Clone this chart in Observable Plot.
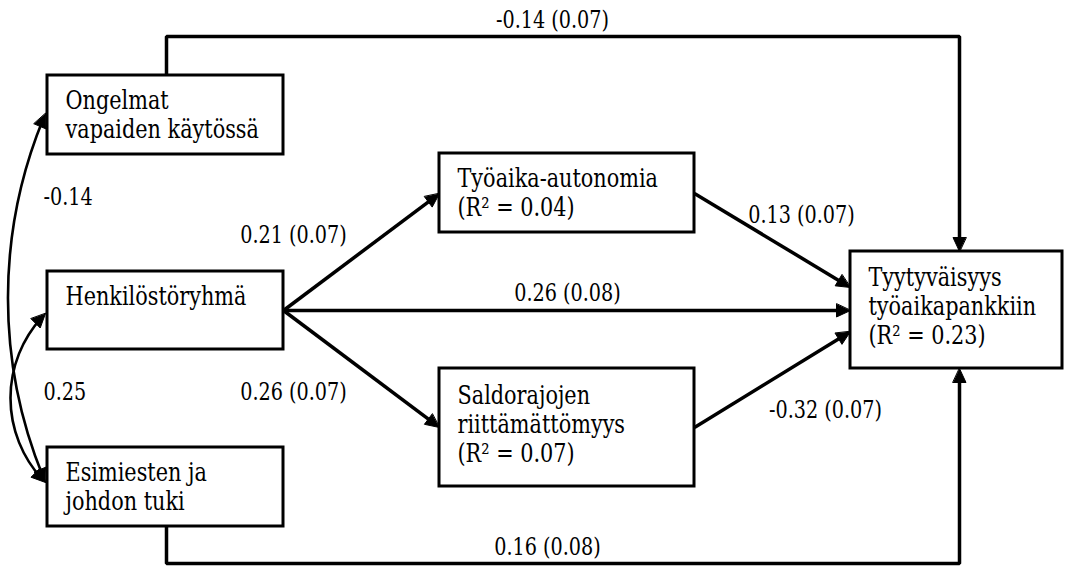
<!DOCTYPE html>
<html><head><meta charset="utf-8">
<script src="https://cdn.jsdelivr.net/npm/d3@7"></script>
<script src="https://cdn.jsdelivr.net/npm/@observablehq/plot@0.6"></script>
<style>
body{margin:0;background:#fff}
</style>
</head><body><div id="chart"></div>
<script>
// ---- variables (nodes) ----
const nodeIds = ["ongelmat", "henkilo", "esimies", "autonomia", "saldo", "tyyt"];
const nodeLabels = [
  "Ongelmat\nvapaiden käytössä",
  "Henkilöstöryhmä",
  "Esimiesten ja\njohdon tuki",
  "Työaika-autonomia\n(R² = 0.04)",
  "Saldorajojen\nriittämättömyys\n(R² = 0.07)",
  "Tyytyväisyys\ntyöaikapankkiin\n(R² = 0.23)"
];
// diagram layout (diagram units)
const boxLeft   = [47, 47, 47, 439, 439, 850];
const boxRight  = [283, 283, 283, 694, 694, 1062];
const boxTop    = [75, 271, 447, 153, 368, 251];
const boxBottom = [154, 349, 526, 232, 486, 368];
const labelBaseline = [137, 304, 509, 215, 461, 343];

// ---- regression paths ----
const pathFrom = ["henkilo", "henkilo", "henkilo", "autonomia", "saldo", "ongelmat", "esimies"];
const pathTo   = ["autonomia", "tyyt", "saldo", "tyyt", "tyyt", "tyyt", "tyyt"];
const pathEst  = [0.21, 0.26, 0.26, 0.13, -0.32, -0.14, 0.16];
const pathSE   = [0.07, 0.08, 0.07, 0.07, 0.07, 0.07, 0.08];
// routing: port heights for straight paths, elbow level for routed ones
const pathY1 = [310, 310, 310, 193, 427, null, null];
const pathY2 = [193, 310, 427, 287, 331, null, null];
const pathElbowY = [null, null, null, null, null, 36, 563];
const elbowX = 959;
const pathLabelX = [293, 567, 293, 801, 825, 552, 547];
const pathLabelY = [235, 293, 392, 215, 410, 20, 547];

// ---- correlations ----
const corrA = ["ongelmat", "henkilo"];
const corrB = ["esimies", "esimies"];
const corrEst = [-0.14, 0.25];
const corrYA = [113, 313];
const corrYB = [482, 482];
const corrBend = [23, 45];
const corrLabelY = [197, 392];

// ---- derived geometry ----
const idx = id => nodeIds.indexOf(id);
const fmt = v => v.toFixed(2);
const HL = 14, HW = 6.5;
const heads = [];
function addHead(id, tx, ty, ang) {
  const ux = Math.cos(ang), uy = Math.sin(ang);
  const bx = tx - HL * ux, by = ty - HL * uy;
  heads.push({id, x: tx, y: ty});
  heads.push({id, x: bx - HW * uy, y: by + HW * ux});
  heads.push({id, x: bx + HW * uy, y: by - HW * ux});
}
const straight = [];
const elbows = [];
pathFrom.forEach((f, i) => {
  const a = idx(f), b = idx(pathTo[i]);
  if (pathElbowY[i] == null) {
    const x1 = boxRight[a], y1 = pathY1[i], x2 = boxLeft[b], y2 = pathY2[i];
    const ang = Math.atan2(y2 - y1, x2 - x1);
    straight.push({x1, y1, x2: x2 - HL * 0.6 * Math.cos(ang), y2: y2 - HL * 0.6 * Math.sin(ang)});
    addHead("p" + i, x2, y2, ang);
  } else {
    const sx = (boxLeft[a] + boxRight[a]) / 2 + 1;
    const up = pathElbowY[i] < boxTop[a];
    const sy = up ? boxTop[a] : boxBottom[a];
    const ty = up ? boxTop[b] : boxBottom[b];
    const ey = ty + (up ? -HL * 0.6 : HL * 0.6);
    elbows.push({id: i, x: sx, y: sy}, {id: i, x: sx, y: pathElbowY[i]},
                {id: i, x: elbowX, y: pathElbowY[i]}, {id: i, x: elbowX, y: ey});
    addHead("p" + i, elbowX, ty, up ? Math.PI / 2 : -Math.PI / 2);
  }
});
const arcs = corrA.map((a, i) => ({x1: boxLeft[idx(a)] - 2, y1: corrYA[i], x2: boxLeft[idx(corrB[i])] - 2, y2: corrYB[i]}));
arcs.forEach((d, i) => {
  const th = Math.atan2(d.y2 - d.y1, d.x2 - d.x1);
  const b = corrBend[i] * Math.PI / 180;
  addHead("c" + i + "b", d.x2, d.y2, th - b);
  addHead("c" + i + "a", d.x1, d.y1, th + b + Math.PI);
});

const ni = d3.range(nodeIds.length);
const pi = d3.range(pathFrom.length);
const ci = d3.range(corrA.length);
const font = "'DejaVu Serif', serif";
const squeeze = 0.8; // narrow the wide serif toward Times-like proportions

const chart = Plot.plot({
  width: 1066,
  height: 568,
  margin: 0,
  x: {domain: [0, 1066], range: [0, 1066], axis: null},
  y: {domain: [0, 568], range: [0, 568], axis: null},
  style: {background: "white", fontFamily: font},
  marks: [
    Plot.link(straight, {x1: "x1", y1: "y1", x2: "x2", y2: "y2", stroke: "black", strokeWidth: 3.5}),
    Plot.line(elbows, {x: "x", y: "y", z: "id", stroke: "black", strokeWidth: 3.5, strokeLinejoin: "miter", strokeLinecap: "butt"}),
    ...arcs.map((d, i) => Plot.arrow([d], {x1: "x1", y1: "y1", x2: "x2", y2: "y2", bend: -corrBend[i], headLength: 0, insetStart: 6, insetEnd: 6, stroke: "black", strokeWidth: 2.6})),
    Plot.line(heads, {x: "x", y: "y", z: "id", curve: "linear-closed", fill: "black", stroke: "black", strokeWidth: 1}),
    Plot.rect(ni, {x1: i => boxLeft[i], x2: i => boxRight[i], y1: i => boxTop[i], y2: i => boxBottom[i], fill: "white", stroke: "black", strokeWidth: 3}),
    Plot.text(ni, {x: i => boxLeft[i] + 18, y: i => labelBaseline[i], text: i => nodeLabels[i], textAnchor: "start", lineAnchor: "bottom", lineHeight: 29 / 26, fontSize: 26, fontFamily: font, fill: "black"}),
    Plot.text(pi, {x: i => pathLabelX[i], y: i => pathLabelY[i], text: i => `${fmt(pathEst[i])} (${fmt(pathSE[i])})`, textAnchor: "middle", lineAnchor: "middle", fontSize: 24, fontFamily: font, fill: "black"}),
    Plot.text(ci, {x: 43, y: i => corrLabelY[i], text: i => fmt(corrEst[i]), textAnchor: "start", lineAnchor: "middle", fontSize: 24, fontFamily: font, fill: "black"})
  ]
});
// condense glyphs horizontally around each text's own anchor
d3.select(chart).selectAll("text").each(function () {
  const t = this.getAttribute("transform");
  if (t && /translate/.test(t)) {
    this.setAttribute("transform", t + ` scale(${squeeze},1)`);
  } else {
    const x = parseFloat(this.getAttribute("x")) || 0;
    const y = parseFloat(this.getAttribute("y")) || 0;
    this.setAttribute("transform", `${t || ""} translate(${x},0) scale(${squeeze},1) translate(${-x},0)`);
  }
});
document.getElementById("chart").appendChild(chart);
</script>
</body></html>
